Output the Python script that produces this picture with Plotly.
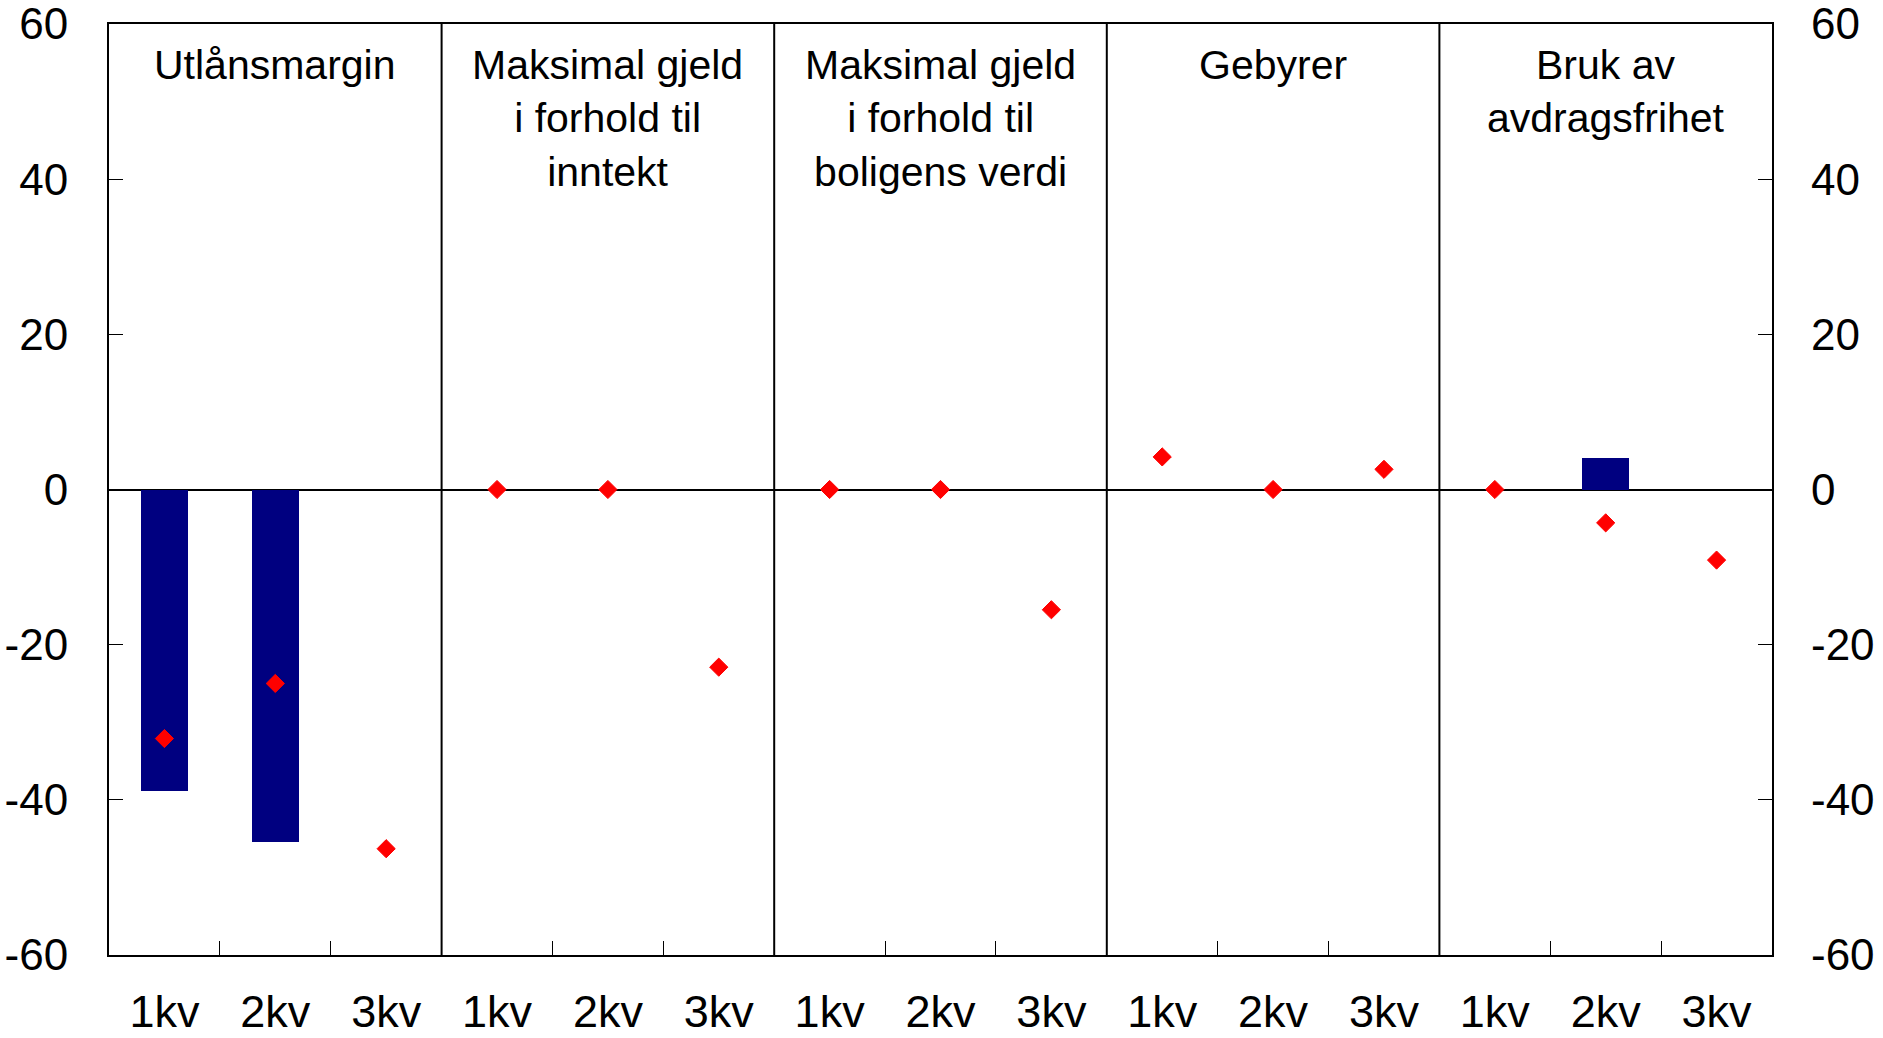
import plotly.graph_objects as go

# ---- data ----
panels = ["Utlånsmargin",
          "Maksimal gjeld<br>i forhold til<br>inntekt",
          "Maksimal gjeld<br>i forhold til<br>boligens verdi",
          "Gebyrer",
          "Bruk av<br>avdragsfrihet"]
quarters = ["1kv", "2kv", "3kv"]
bar_values = [-38.8, -45.4, None,
              0, 0, None,
              0, 0, None,
              0, 0, None,
              0, 4.0, None]
diamond_values = [-32.1, -25.0, -46.3,
                  0, 0, -22.9,
                  0, 0, -15.5,
                  4.2, 0, 2.6,
                  0, -4.3, -9.1]
y_ticks = [-60, -40, -20, 0, 20, 40, 60]
y_ticktext = ["-60", "-40", "-20", "0", "20", "40", "60"]

# ---- derived positions ----
n = len(panels) * len(quarters)
xpos = list(range(n))
xlabels = quarters * len(panels)

FONT = "Liberation Sans, Arial, sans-serif"

fig = go.Figure()
fig.add_trace(go.Bar(x=xpos, y=bar_values, width=0.42,
                     marker=dict(color="#000080", line=dict(width=0)),
                     showlegend=False, hoverinfo="skip"))
fig.add_trace(go.Scatter(x=xpos, y=diamond_values, mode="markers",
                         marker=dict(symbol="diamond", size=14, color="#FF0000",
                                     line=dict(color="#FF0000", width=1)),
                         showlegend=False, hoverinfo="skip"))
# invisible trace to anchor right axis
fig.add_trace(go.Scatter(x=[], y=[], yaxis="y2", showlegend=False))

# panel separators
for k in range(1, len(panels)):
    fig.add_shape(type="line", xref="x", yref="paper",
                  x0=k * 3 - 0.5, x1=k * 3 - 0.5, y0=0, y1=1,
                  line=dict(color="black", width=2))

# panel titles
for k, title in enumerate(panels):
    fig.add_annotation(x=k * 3 + 1, y=1, xref="x", yref="paper",
                       text=title, showarrow=False, xanchor="center",
                       yanchor="top", yshift=-16, align="center",
                       font=dict(family=FONT, size=41, color="black"))

fig.update_layout(
    width=1883, height=1038,
    margin=dict(l=109, r=111, t=24, b=83, autoexpand=False),
    paper_bgcolor="white", plot_bgcolor="white",
    bargap=0, showlegend=False,
    font=dict(family=FONT, color="black"),
    xaxis=dict(range=[-0.5, n - 0.5], tickmode="array", tickvals=xpos,
               ticktext=xlabels, ticks="", showgrid=False, zeroline=False,
               automargin=False, ticklabeloverflow="allow",
               showline=True, linecolor="black", linewidth=2, mirror=True,
               tickfont=dict(family=FONT, size=45, color="black"),
               ticklabelstandoff=16,
               minor=dict(tickmode="array",
                          tickvals=[i + 0.5 for i in range(n - 1)],
                          ticks="inside", ticklen=14, tickwidth=1,
                          tickcolor="black", showgrid=False)),
    yaxis=dict(range=[-60, 60], tickmode="array", tickvals=y_ticks,
               ticktext=y_ticktext, automargin=False,
               ticklabeloverflow="allow",
               ticks="inside", ticklen=14, tickwidth=1, tickcolor="black",
               showgrid=False, zeroline=True, zerolinecolor="black",
               zerolinewidth=1.5, showline=True, linecolor="black",
               linewidth=2, mirror=True,
               tickfont=dict(family=FONT, size=44, color="black"),
               ticklabelstandoff=30),
    yaxis2=dict(range=[-60, 60], tickmode="array", tickvals=y_ticks,
                ticktext=y_ticktext, automargin=False,
                ticklabeloverflow="allow",
                overlaying="y", side="right", anchor="x",
                ticks="inside", ticklen=14, tickwidth=1, tickcolor="black",
                showgrid=False, zeroline=False, showline=False,
                tickfont=dict(family=FONT, size=44, color="black"),
                ticklabelstandoff=38),
)

fig.write_html("out.html", config={"displayModeBar": False},
               post_script="document.body.style.margin='0px';")
